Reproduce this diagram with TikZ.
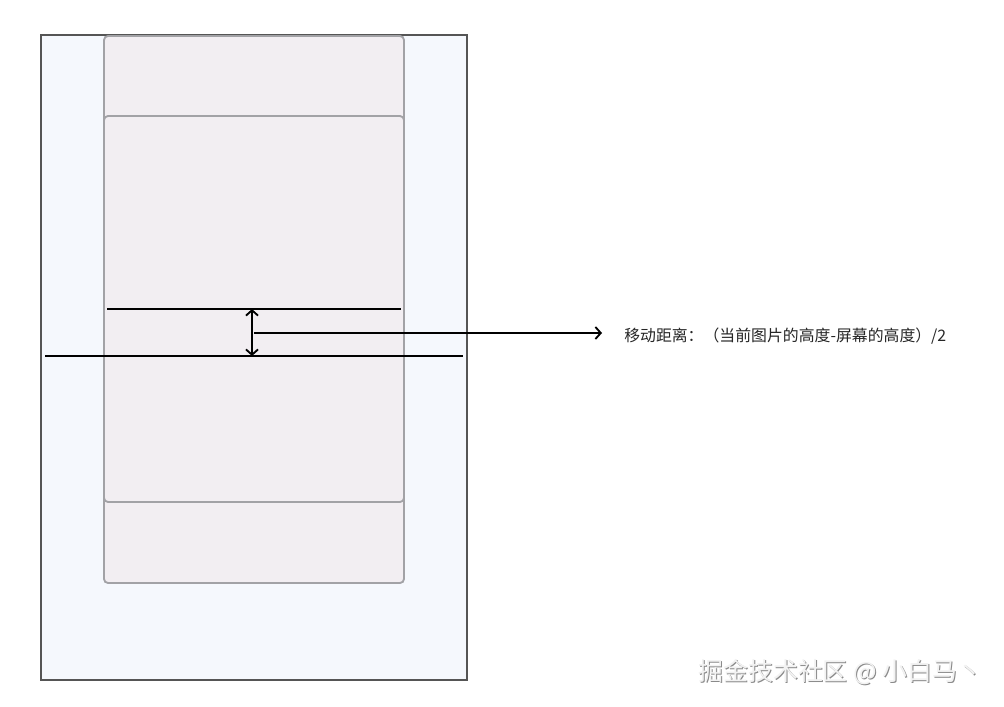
\documentclass[tikz,border=0pt]{standalone}
\usepackage{fontspec}
\newfontfamily\cjk{Noto Sans CJK SC}
\usetikzlibrary{arrows.meta}
\definecolor{outerfill}{HTML}{F5F8FD}
\definecolor{outerdraw}{HTML}{555555}
\definecolor{innerfill}{HTML}{F2EEF2}
\definecolor{innerdraw}{HTML}{A2A2A6}
\definecolor{wmshadow}{HTML}{8A8A8A}
\definecolor{wmtext}{HTML}{F2F2F2}
\tikzset{
  outerbox/.style={draw=outerdraw, fill=outerfill, line width=1.4pt, inner sep=0pt},
  imgbox/.style={draw=innerdraw, fill=innerfill, line width=1.4pt, rounded corners=3pt, inner sep=0pt},
  guideline/.style={draw=black, line width=1.4pt},
  measarrow/.style={draw=black, line width=1.4pt, {Straight Barb[length=4pt,width=9pt,line width=1.4pt]}-{Straight Barb[length=4pt,width=9pt,line width=1.4pt]}},
  pointarrow/.style={draw=black, line width=1.4pt, -{Straight Barb[length=4pt,width=9pt,line width=1.4pt]}},
  lbl/.style={font=\cjk\fontsize{11.9}{14}\selectfont, text=black!85, inner sep=0pt, anchor=west},
  wm/.style={font=\cjk\fontsize{18.7}{22}\selectfont, inner sep=0pt, anchor=west}
}
\begin{document}
\begin{tikzpicture}[x=0.75pt,y=-0.75pt]
\useasboundingbox (0,0) rectangle (1004,707);
\fill[white] (0,0) rectangle (1004,707);
\node[outerbox, minimum width=426*0.75pt, minimum height=645*0.75pt] (outer) at (254,357.5) {};
\node[imgbox, minimum width=300*0.75pt, minimum height=547*0.75pt] (image) at (254,309.5) {};
\node[imgbox, minimum width=300*0.75pt, minimum height=386*0.75pt] (screen) at (254,309) {};
\coordinate (l1a) at (107,309);
\coordinate (l1b) at (401,309);
\coordinate (l2a) at (45,356);
\coordinate (l2b) at (463,356);
\coordinate (mtop) at (252,309);
\coordinate (mbot) at (252,356);
\coordinate (pstart) at (254,333);
\draw[guideline] (l1a) -- (l1b);
\draw[guideline] (l2a) -- (l2b);
\draw[measarrow] (mtop) -- (mbot);
\node[lbl] (label) at (624,336.5) {移动距离：（当前图片的高度-屏幕的高度）/2};
\coordinate (pend) at (602,333);
\draw[pointarrow] (pstart) -- (pend);
\node[wm, text=wmshadow] (wmshade) at (699,673) {掘金技术社区 @ 小白马丶};
\node[wm, text=wmtext] (wmark) at (698,672) {掘金技术社区 @ 小白马丶};
\end{tikzpicture}
\end{document}
